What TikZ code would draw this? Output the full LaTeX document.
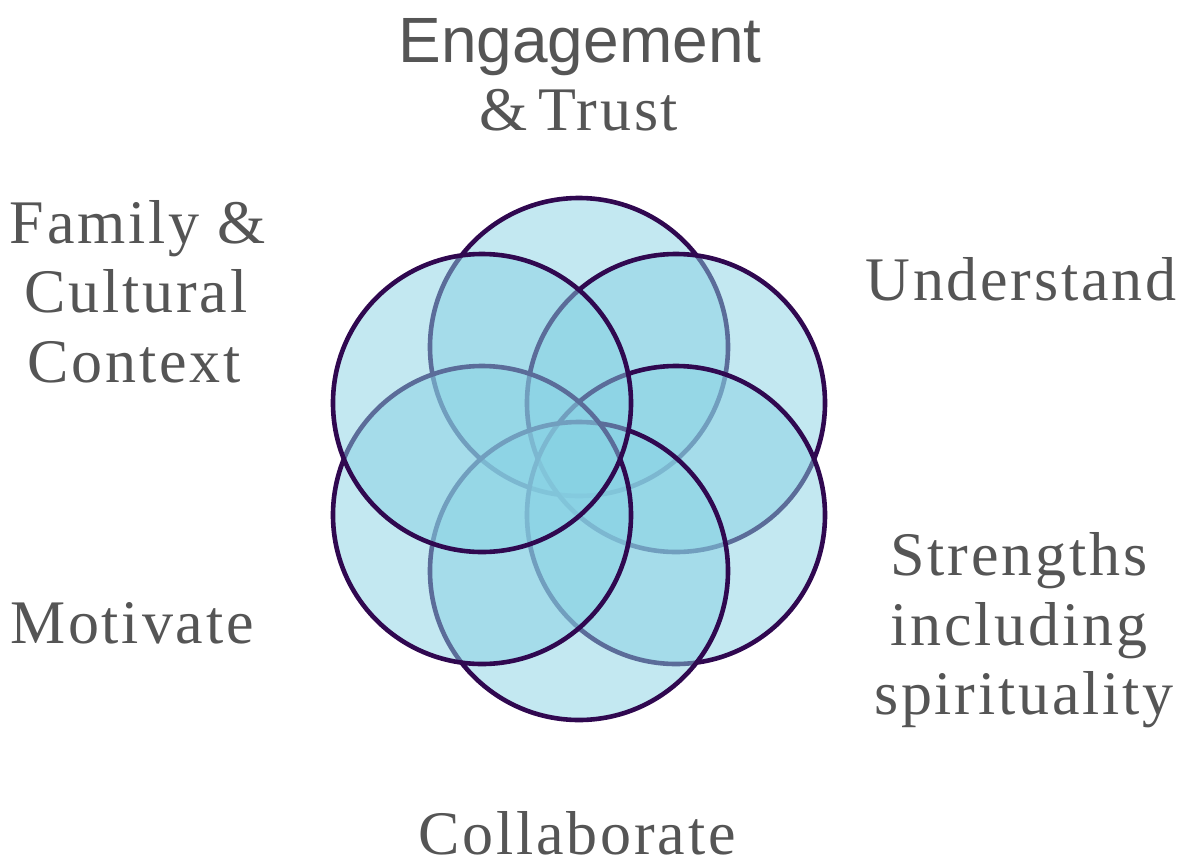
\documentclass[tikz,border=0pt]{standalone}
\usepackage{fontspec}
\setmainfont{Liberation Serif}[LetterSpace=4.5]
\newfontfamily\sansf{Liberation Sans}
\definecolor{ringfill}{RGB}{135,209,227}
\definecolor{ringline}{RGB}{48,8,80}
\definecolor{labelgray}{RGB}{85,85,85}
\tikzset{
  ring/.style={fill=ringfill, fill opacity=0.5, draw=ringline, draw opacity=1, line width=2.3pt},
  lbl/.style={anchor=base, inner sep=0pt, text=labelgray, font=\fontsize{31}{35}\selectfont},
  sanslbl/.style={anchor=base, inner sep=0pt, text=labelgray, font=\sansf\fontsize{32}{36}\selectfont}
}
\begin{document}
\begin{tikzpicture}[x=0.5pt,y=-0.5pt]
\useasboundingbox (0,0) rectangle (1191,864);
% circles, clockwise from top
\draw[ring] (579,347) circle[radius=74.5pt];
\draw[ring] (676,403) circle[radius=74.5pt];
\draw[ring] (676,515) circle[radius=74.5pt];
\draw[ring] (579,571) circle[radius=74.5pt];
\draw[ring] (482,515) circle[radius=74.5pt];
\draw[ring] (482,403) circle[radius=74.5pt];
% labels
\node[sanslbl] (eng1) at (580,62) {Engagement};
\node[lbl] (eng2) at (579,130) {\&\,Trust};
\node[lbl] (fam1) at (138,243) {Family \&};
\node[lbl] (fam2) at (136,312) {Cultural};
\node[lbl] (fam3) at (134,382) {Context};
\node[lbl] (und) at (1021,300) {Understand};
\node[lbl] (str1) at (1019,575) {Strengths};
\node[lbl] (str2) at (1019,645) {including};
\node[lbl] (str3) at (1024,714) {spirituality};
\node[lbl] (mot) at (132,643) {Motivate};
\node[lbl, text depth=0pt] (col) at (577,854) {Collaborate};
\end{tikzpicture}
\end{document}
